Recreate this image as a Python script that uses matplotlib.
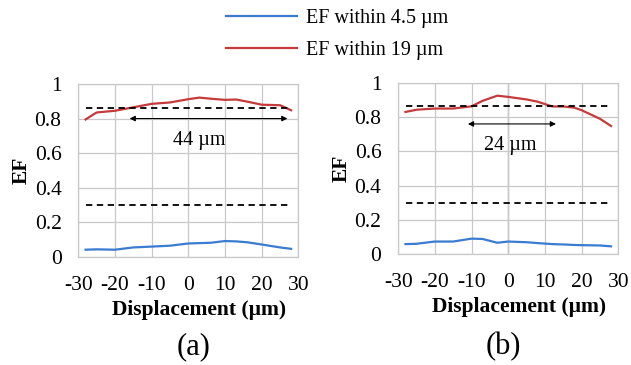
import matplotlib.pyplot as plt
from matplotlib.lines import Line2D

plt.rcParams['font.family'] = ['Liberation Serif', 'DejaVu Serif']
plt.rcParams['axes.unicode_minus'] = False

# displacement samples (um)
x_a = [-28, -25, -20, -15, -10, -5, 0, 3, 6, 10, 13, 16, 20, 25, 28]
red_a = [0.795, 0.835, 0.845, 0.865, 0.885, 0.893, 0.912, 0.921, 0.915, 0.908, 0.910, 0.898, 0.880, 0.877, 0.848]
blue_a = [0.042, 0.044, 0.042, 0.055, 0.060, 0.065, 0.078, 0.080, 0.082, 0.092, 0.090, 0.085, 0.072, 0.055, 0.047]

x_b = [-28, -25, -20, -15, -10, -7, -3, 0, 5, 8, 12, 15, 18, 20, 25, 28]
red_b = [0.830, 0.843, 0.850, 0.850, 0.863, 0.895, 0.925, 0.918, 0.903, 0.890, 0.862, 0.862, 0.855, 0.840, 0.790, 0.748]
blue_b = [0.058, 0.060, 0.073, 0.073, 0.090, 0.088, 0.066, 0.073, 0.069, 0.064, 0.058, 0.056, 0.053, 0.052, 0.050, 0.045]

xticks = [-30, -20, -10, 0, 10, 20, 30]
yticks = [0, 0.2, 0.4, 0.6, 0.8, 1]
ytick_labels = ['0', '0.2', '0.4', '0.6', '0.8', '1']

upper_thr = [0.86, 0.865]
lower_thr = [0.30, 0.30]
arrow_y = [0.80, 0.76]
arrow_span = [(-16, 27), (-11, 13)]
span_labels = ['44 µm', '24 µm']
span_text_pos = [(3, 0.675), (0.5, 0.635)]
panel_labels = ['(a)', '(b)']

blue = '#3a7ccf'
red = '#c63a3c'
grid_c = '#c8c8c8'

fig = plt.figure(figsize=(6.31, 3.65), dpi=100)
ax_a = fig.add_axes([0.124, 0.296, 0.349, 0.474])
ax_b = fig.add_axes([0.631, 0.304, 0.349, 0.469])

data = [(x_a, red_a, blue_a), (x_b, red_b, blue_b)]
centers = [0.306, 0.797]

for i, ax in enumerate([ax_a, ax_b]):
    xs, rs, bs = data[i]
    ax.plot(xs, bs, color=blue, lw=1.6, solid_joinstyle='round')
    ax.plot(xs, rs, color=red, lw=1.6, solid_joinstyle='round')
    ax.plot([-28, 28], [upper_thr[i]] * 2, color='black', ls=(0, (3.5, 2.5)), lw=1.3)
    ax.plot([-28, 28], [lower_thr[i]] * 2, color='black', ls=(0, (3.5, 2.5)), lw=1.3)
    x0, x1 = arrow_span[i]
    ax.annotate('', xy=(x1, arrow_y[i]), xytext=(x0, arrow_y[i]),
                arrowprops=dict(arrowstyle='<|-|>', color='black', lw=0.8,
                                mutation_scale=8, shrinkA=0, shrinkB=0))
    tx, ty = span_text_pos[i]
    ax.text(tx, ty, span_labels[i], ha='center', va='center', fontsize=14.5)

    ax.set_xlim(-30, 30)
    ax.set_ylim(0, 1)
    ax.set_xticks(xticks)
    ax.set_yticks(yticks)
    ax.set_yticklabels(ytick_labels)
    ax.tick_params(length=0, labelsize=15.5)
    ax.tick_params(axis='x', pad=14)
    ax.tick_params(axis='y', pad=12)
    ax.grid(True, color=grid_c, lw=0.9)
    ax.set_axisbelow(True)
    for s in ax.spines.values():
        s.set_color(grid_c)
        s.set_linewidth(0.9)
    ax.set_xlabel('Displacement (µm)', fontsize=15.5, fontweight='bold', labelpad=3.5)
    ax.xaxis.set_label_coords(0.55, -0.25)
    ax.set_ylabel('EF', fontsize=15.5, fontweight='bold', labelpad=2)
    fig.text(centers[i], 0.05, panel_labels[i], ha='center', va='center', fontsize=22)

ax_b.axvline(0, color='#8c8c8c', lw=0.9, zorder=0.5)

handles = [Line2D([], [], color=blue, lw=1.6), Line2D([], [], color=red, lw=1.6)]
fig.legend(handles, ['EF within 4.5 µm', 'EF within 19 µm'], loc='upper left',
           bbox_to_anchor=(0.33, 1.025), frameon=False, fontsize=14.5,
           handlelength=3.5, handletextpad=0.45, labelspacing=0.65)

fig.savefig('out.png', dpi=100)
